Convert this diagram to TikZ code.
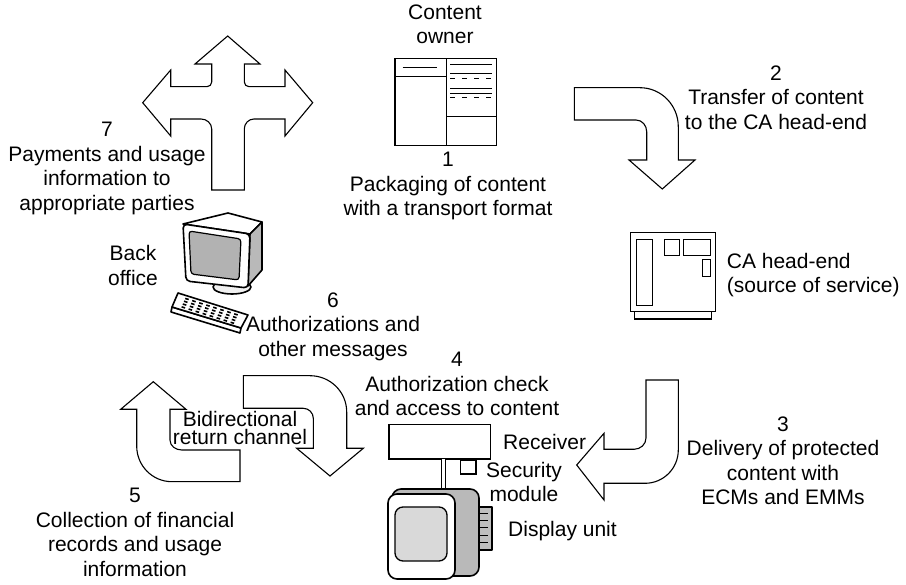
\documentclass[tikz,border=0pt]{standalone}
\usepackage{fontspec}
\setmainfont{Liberation Sans}
\begin{document}
\begin{tikzpicture}[x=1pt,y=-1pt,
  lbl/.style={font=\fontsize{21}{24.5}\selectfont, align=center, inner sep=0pt, execute at begin node=\strut},
  one/.style={font=\fontsize{21}{24.5}\selectfont, inner sep=0pt},
  flow/.style={draw, line width=1.1pt, fill=white, line join=miter},
  box/.style={draw, line width=1.1pt, fill=white},
  thin/.style={draw, line width=1pt},
  heavy/.style={draw, line width=1.6pt, line join=round}]
\useasboundingbox (0,0) rectangle (906,585);
% y grows down the page; out/in angles of curves are page angles (90 = up)

% ---------- three-way arrow (payments) ----------
\draw[flow] (211.7,190) -- (211.7,129) to[out=90,in=0] (201,119) -- (170.7,119) -- (170.7,136)
  -- (142.7,102.7) -- (170.7,70) -- (170.7,86.7) -- (207,86.7) to[out=0,in=-90] (211.7,82)
  -- (211.7,64) -- (195,64) -- (227.7,36) -- (260,64) -- (244.3,64) -- (244.3,82)
  to[out=-90,in=180] (249,86.7) -- (285,86.7) -- (285,70) -- (312.7,102.7) -- (285,136)
  -- (285,119) -- (254,119) to[out=180,in=90] (244.3,129) -- (244.3,190) -- cycle;

% ---------- content owner document ----------
\node[box, minimum width=101.7pt, minimum height=87.4pt, inner sep=0pt] (doc) at (445.85,102) {};
\draw[thin] (446,58.3) -- (446,145.7);
\draw[thin] (395,76.7) -- (446,76.7);
\draw[thin] (402.7,67.3) -- (437.3,67.3);
\draw[thin] (446,116.7) -- (496.7,116.7);
\foreach \yy in {65,74,88.3,93.3} \draw[thin] (450,\yy) -- (491.7,\yy);
\foreach \yy in {78.7,98} \draw[thin, dash pattern=on 5pt off 7pt] (450,\yy) -- (491.7,\yy);

% ---------- arrow 2 ----------
\draw[flow] (574.3,87.7) -- (640,87.7) to[out=0,in=90] (678.3,126.7) -- (678.3,160) -- (695,160)
  -- (662.3,189) -- (629,160) -- (646.7,160) -- (646.7,131.7) to[out=90,in=0] (636,120)
  -- (574.3,120) -- cycle;

% ---------- CA head-end ----------
\draw[box] (634.3,311.7) rectangle (711.7,319);
\node[box, minimum width=85pt, minimum height=79pt, inner sep=0pt] (head) at (673.2,272.2) {};
\draw[thin] (636,239.3) rectangle (652.7,306);
\draw[thin] (664.3,239.3) rectangle (679,256);
\draw[thin] (683.3,239.3) rectangle (710,256);
\draw[thin] (702.3,259.3) rectangle (710,276.7);

% ---------- arrow 3 ----------
\draw[flow] (646,380) -- (678.3,380) -- (678.3,450) to[out=-90,in=0] (645,483.3) -- (604,483.3)
  -- (604,500) -- (576.7,465) -- (604,433.3) -- (604,449.3) -- (634,449.3) to[out=0,in=-90]
  (646,438) -- cycle;

% ---------- arrow 5 ----------
\draw[flow] (153.3,381.7) -- (186,409.3) -- (170,409.3) -- (170,440) to[out=-90,in=180] (181.7,450)
  -- (240,450) -- (240,481.7) -- (172,481.7) to[out=180,in=-90] (136.7,446) -- (136.7,409.3)
  -- (120.7,409.3) -- cycle;

% ---------- arrow 6 ----------
\draw[flow] (243.3,375.7) -- (310,375.7) to[out=0,in=90] (346.7,412) -- (346.7,448.3)
  -- (363.3,448.3) -- (330,476) -- (296.7,448.3) -- (313.3,448.3) -- (313.3,418.3)
  to[out=90,in=0] (303.3,408.3) -- (243.3,408.3) -- cycle;

% ---------- back office computer ----------
\draw[heavy, fill=gray!12] (232,287) ellipse [x radius=19pt, y radius=7pt];
\draw[heavy, fill=white] (183,224) -- (228,213) -- (262,222) -- (250,234) -- cycle;
\draw[heavy, fill=gray!55] (250,234) -- (262,222) -- (262,270) -- (248,286) -- cycle;
\draw[heavy, fill=white, rounded corners=4pt] (183,224) -- (250,234) -- (248,288) -- (186,281) -- cycle;
\draw[line width=1.2pt, fill=gray!60, rounded corners=3pt] (189,231) -- (241,239) -- (239,280) -- (191,274) -- cycle;
\draw[heavy, fill=white] (172,307) -- (241,328) -- (240,333) -- (171,312) -- cycle;
\draw[heavy, fill=white] (178,293) -- (248,315) -- (241,328) -- (172,307) -- cycle;
\foreach \b in {0.2,0.4,0.6,0.8}
  \foreach \a in {0.12,0.22,...,0.92}
    \draw[line width=1.6pt] ({178+70*\a-6*\b},{293+22*\a+14*\b}) -- ({178+70*(\a+0.05)-6*\b},{293+22*(\a+0.05)+14*\b});

% ---------- receiver, security module, display ----------
\node[box, minimum width=101.7pt, minimum height=34.7pt, inner sep=0pt] (rx) at (439.85,441.65) {};
\draw[thin, fill=white] (441.7,459) rectangle (445,491);
\draw[box] (460.7,460) rectangle (476,474);
\draw[heavy, fill=gray!50] (476,507) rectangle (491.7,550);
\foreach \yy in {514,521,528,535,542} \draw[line width=1pt] (479,\yy) -- (488,\yy);
\draw[heavy, fill=gray!55, rounded corners=9pt] (392,489) rectangle (479,576);
\draw[heavy, fill=white, rounded corners=9pt] (388,494) rectangle (455,579);
\draw[line width=1.3pt, fill=gray!30, rounded corners=8pt] (395,507) rectangle (447,561);

% ---------- labels ----------
\node[lbl, anchor=north] (tOwner) at (445,4.35) {Content\\owner};
\node[lbl, anchor=north] (t1) at (448,152.05) {1\\Packaging of content\\with a transport format};
\node[lbl, anchor=north] (t2) at (776,65.35) {2\\Transfer of content\\to the CA head-end};
\node[lbl, anchor=north west, align=left] (tHead) at (726.7,252.85) {CA head-end\\(source of service)};
\node[lbl, anchor=north] (t3) at (783,416.35) {3\\Delivery of protected\\content with\\ECMs and EMMs};
\node[lbl, anchor=north] (t4) at (457,352.35) {4\\Authorization check\\and access to content};
\node[one, anchor=base west] (tRx) at (503,449.2) {Receiver};
\node[lbl, anchor=north] (tSec) at (524,462.05) {Security\\module};
\node[one, anchor=base west] (tDisp) at (508,536.5) {Display unit};
\node[lbl, anchor=north] (t5) at (135,488.35) {5\\Collection of financial\\records and usage\\information};
\node[one, anchor=base] (tBi1) at (240,427) {Bidirectional};
\node[one, anchor=base] (tBi2) at (240,445) {return channel};
\node[lbl, anchor=north] (t6) at (333,292.35) {6\\Authorizations and\\other messages};
\node[lbl, anchor=north] (tBack) at (133,245.35) {Back\\office};
\node[lbl, anchor=north] (t7) at (107,122.35) {7\\Payments and usage\\information to\\appropriate parties};
\end{tikzpicture}
\end{document}
